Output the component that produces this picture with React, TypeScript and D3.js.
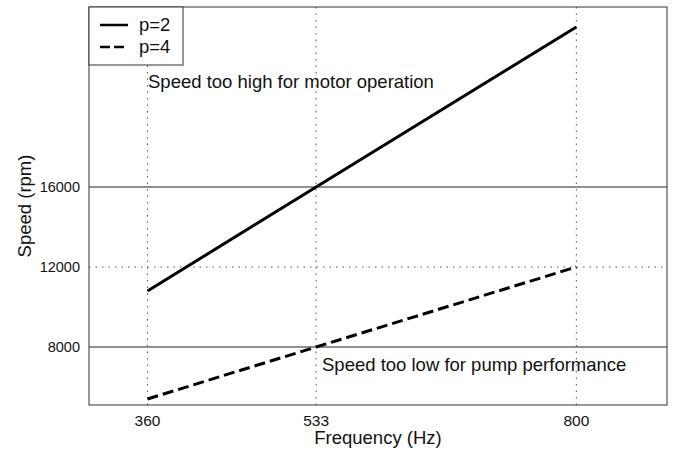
import React from "react";
import * as d3 from "d3";

const frequencies = [360, 533, 800];
const speedP2 = [10800, 16000, 24000];
const speedP4 = [5400, 8000, 12000];
const xTicks = [360, 533, 800];
const yTicks = [8000, 12000, 16000];
const limitLines = [8000, 16000];
const legendLabels = ["p=2", "p=4"];

const W = 675;
const H = 450;
const margin = { top: 7, right: 8, bottom: 45, left: 89 };
const FONT = "'Liberation Sans', Arial, Helvetica, sans-serif";

const App = () => {
  const x = d3.scaleLinear().domain([300, 893]).range([margin.left, W - margin.right]);
  const y = d3.scaleLinear().domain([5100, 25000]).range([H - margin.bottom, margin.top]);

  const line = d3
    .line<[number, number]>()
    .x((d) => x(d[0]))
    .y((d) => y(d[1]));

  const p2 = frequencies.map((f, i) => [f, speedP2[i]] as [number, number]);
  const p4 = frequencies.map((f, i) => [f, speedP4[i]] as [number, number]);

  const [x0, x1] = x.range();
  const [yb, yt] = y.range();

  return (
    <svg
      width={W}
      height={H}
      style={{ position: "absolute", left: 0, top: 0, background: "white" }}
      fontFamily={FONT}
    >
      {/* grid */}
      {xTicks.map((t) => (
        <line key={"gx" + t} x1={x(t)} x2={x(t)} y1={yb} y2={yt} stroke="#555" strokeWidth={1} strokeDasharray="1.5,5" />
      ))}
      <line x1={x0} x2={x1} y1={y(12000)} y2={y(12000)} stroke="#555" strokeWidth={1} strokeDasharray="1.5,5" />
      {limitLines.map((v) => (
        <line key={"lim" + v} x1={x0} x2={x1} y1={y(v)} y2={y(v)} stroke="#222" strokeWidth={1.2} />
      ))}

      {/* frame */}
      <rect x={x0} y={yt} width={x1 - x0} height={yb - yt} fill="none" stroke="#333" strokeWidth={1} />

      {/* series */}
      <path d={line(p2) || ""} fill="none" stroke="#000" strokeWidth={3} />
      <path d={line(p4) || ""} fill="none" stroke="#000" strokeWidth={3} strokeDasharray="11,5" />

      {/* annotations */}
      <text x={148} y={88} fontSize={18.5} fill="#111">Speed too high for motor operation</text>
      <text x={322} y={371} fontSize={18.5} fill="#111">Speed too low for pump performance</text>

      {/* legend */}
      <rect x={x0} y={yt} width={94} height={58} fill="white" stroke="#333" strokeWidth={1} />
      {legendLabels.map((lab, i) => (
        <g key={lab} transform={`translate(${x0 + 11}, ${yt + 18 + i * 22})`}>
          <line x1={0} x2={28} y1={0} y2={0} stroke="#000" strokeWidth={2.5} strokeDasharray={i === 1 ? "10,4" : undefined} />
          <text x={39} y={6} fontSize={18.5} fill="#111">{lab}</text>
        </g>
      ))}

      {/* x axis */}
      {xTicks.map((t) => (
        <text key={"xt" + t} x={x(t)} y={yb + 21} fontSize={15.5} textAnchor="middle" fill="#111">{t}</text>
      ))}
      <text x={(x0 + x1) / 2} y={yb + 39} fontSize={18.5} textAnchor="middle" fill="#111">Frequency (Hz)</text>

      {/* y axis */}
      {yTicks.map((t) => (
        <text key={"yt" + t} x={x0 - 9} y={y(t) + 5} fontSize={14.5} textAnchor="end" fill="#111">{t}</text>
      ))}
      <text
        transform={`translate(31, ${(yb + yt) / 2}) rotate(-90)`}
        fontSize={18.5}
        textAnchor="middle"
        fill="#111"
      >
        Speed (rpm)
      </text>
    </svg>
  );
};

export default App;
